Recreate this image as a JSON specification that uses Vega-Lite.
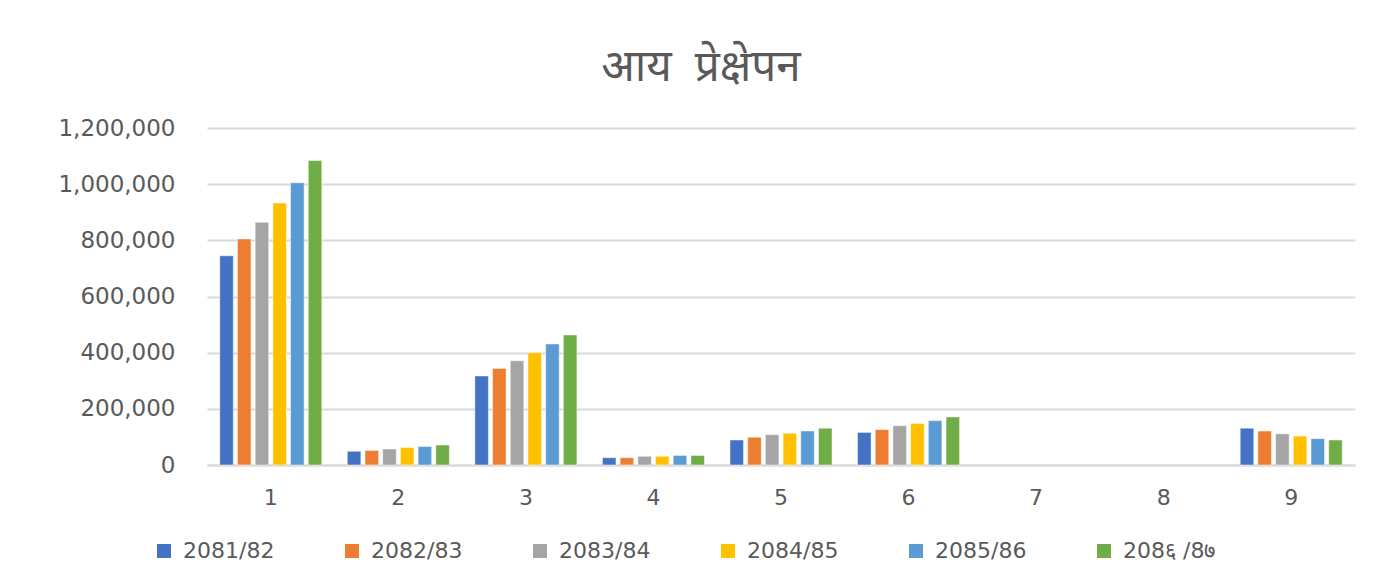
{
  "$schema": "https://vega.github.io/schema/vega-lite/v6.json",
  "autosize": {"type": "none"},
  "width": 1148,
  "height": 337,
  "padding": {"left": 207, "top": 128, "right": 39, "bottom": 115},
  "background": "white",
  "title": {
    "text": "आय\u00a0\u00a0प्रेक्षेपन",
    "font": "Noto Sans",
    "fontSize": 44,
    "fontWeight": "normal",
    "color": "#595959",
    "anchor": "middle",
    "dx": -80,
    "offset": 27
  },
  "data": {
    "values": [
      {"group": "1", "year": "2081/82", "value": 745000},
      {"group": "1", "year": "2082/83", "value": 805000},
      {"group": "1", "year": "2083/84", "value": 864000},
      {"group": "1", "year": "2084/85", "value": 933000},
      {"group": "1", "year": "2085/86", "value": 1005000},
      {"group": "1", "year": "208६ /8७", "value": 1084000},
      {"group": "2", "year": "2081/82", "value": 49000},
      {"group": "2", "year": "2082/83", "value": 52000},
      {"group": "2", "year": "2083/84", "value": 57000},
      {"group": "2", "year": "2084/85", "value": 62000},
      {"group": "2", "year": "2085/86", "value": 66000},
      {"group": "2", "year": "208६ /8७", "value": 71000},
      {"group": "3", "year": "2081/82", "value": 317000},
      {"group": "3", "year": "2082/83", "value": 344000},
      {"group": "3", "year": "2083/84", "value": 371000},
      {"group": "3", "year": "2084/85", "value": 400000},
      {"group": "3", "year": "2085/86", "value": 431000},
      {"group": "3", "year": "208६ /8७", "value": 463000},
      {"group": "4", "year": "2081/82", "value": 26000},
      {"group": "4", "year": "2082/83", "value": 26000},
      {"group": "4", "year": "2083/84", "value": 31000},
      {"group": "4", "year": "2084/85", "value": 31000},
      {"group": "4", "year": "2085/86", "value": 34000},
      {"group": "4", "year": "208६ /8७", "value": 34000},
      {"group": "5", "year": "2081/82", "value": 89000},
      {"group": "5", "year": "2082/83", "value": 99000},
      {"group": "5", "year": "2083/84", "value": 108000},
      {"group": "5", "year": "2084/85", "value": 113000},
      {"group": "5", "year": "2085/86", "value": 121000},
      {"group": "5", "year": "208६ /8७", "value": 131000},
      {"group": "6", "year": "2081/82", "value": 116000},
      {"group": "6", "year": "2082/83", "value": 126000},
      {"group": "6", "year": "2083/84", "value": 140000},
      {"group": "6", "year": "2084/85", "value": 148000},
      {"group": "6", "year": "2085/86", "value": 158000},
      {"group": "6", "year": "208६ /8७", "value": 171000},
      {"group": "9", "year": "2081/82", "value": 131000},
      {"group": "9", "year": "2082/83", "value": 121000},
      {"group": "9", "year": "2083/84", "value": 111000},
      {"group": "9", "year": "2084/85", "value": 103000},
      {"group": "9", "year": "2085/86", "value": 94000},
      {"group": "9", "year": "208६ /8७", "value": 89000}
    ]
  },
  "mark": {"type": "bar", "stroke": "white", "strokeWidth": 0.8, "strokeOpacity": 0.6},
  "encoding": {
    "x": {
      "field": "group",
      "type": "nominal",
      "scale": {"domain": ["1","2","3","4","5","6","7","8","9"], "paddingInner": 0.2, "paddingOuter": 0.1},
      "axis": {
        "title": null,
        "labelAngle": 0,
        "labelFont": "DejaVu Sans",
        "labelFontSize": 22,
        "labelColor": "#595959",
        "labelPadding": 22,
        "ticks": false,
        "domainColor": "#d9d9d9",
        "domainWidth": 2,
        "grid": false
      }
    },
    "xOffset": {
      "field": "year",
      "type": "nominal",
      "sort": ["2081/82","2082/83","2083/84","2084/85","2085/86","208६ /8७"],
      "scale": {"paddingInner": 0.235, "paddingOuter": 0}
    },
    "y": {
      "field": "value",
      "type": "quantitative",
      "scale": {"domain": [0, 1200000], "nice": false},
      "axis": {
        "title": null,
        "values": [0, 200000, 400000, 600000, 800000, 1000000, 1200000],
        "format": ",d",
        "labelFont": "DejaVu Sans",
        "labelFontSize": 23,
        "labelColor": "#595959",
        "labelPadding": 32,
        "ticks": false,
        "domain": false,
        "gridColor": "#d9d9d9",
        "gridWidth": 2
      }
    },
    "color": {
      "field": "year",
      "type": "nominal",
      "sort": ["2081/82","2082/83","2083/84","2084/85","2085/86","208६ /8७"],
      "scale": {
        "domain": ["2081/82","2082/83","2083/84","2084/85","2085/86","208६ /8७"],
        "range": ["#4472C4","#ED7D31","#A5A5A5","#FFC000","#5B9BD5","#70AD47"]
      },
      "legend": {
        "title": null,
        "orient": "none",
        "direction": "horizontal",
        "legendX": -54,
        "legendY": 412,
        "columns": 6,
        "gridAlign": "all",
        "columnPadding": 65,
        "symbolType": "square",
        "symbolSize": 196,
        "symbolStrokeWidth": 0,
        "labelFont": "DejaVu Sans",
        "labelFontSize": 22,
        "labelColor": "#595959",
        "labelOffset": 8,
        "labelLimit": 200
      }
    }
  },
  "config": {"view": {"stroke": null}}
}
